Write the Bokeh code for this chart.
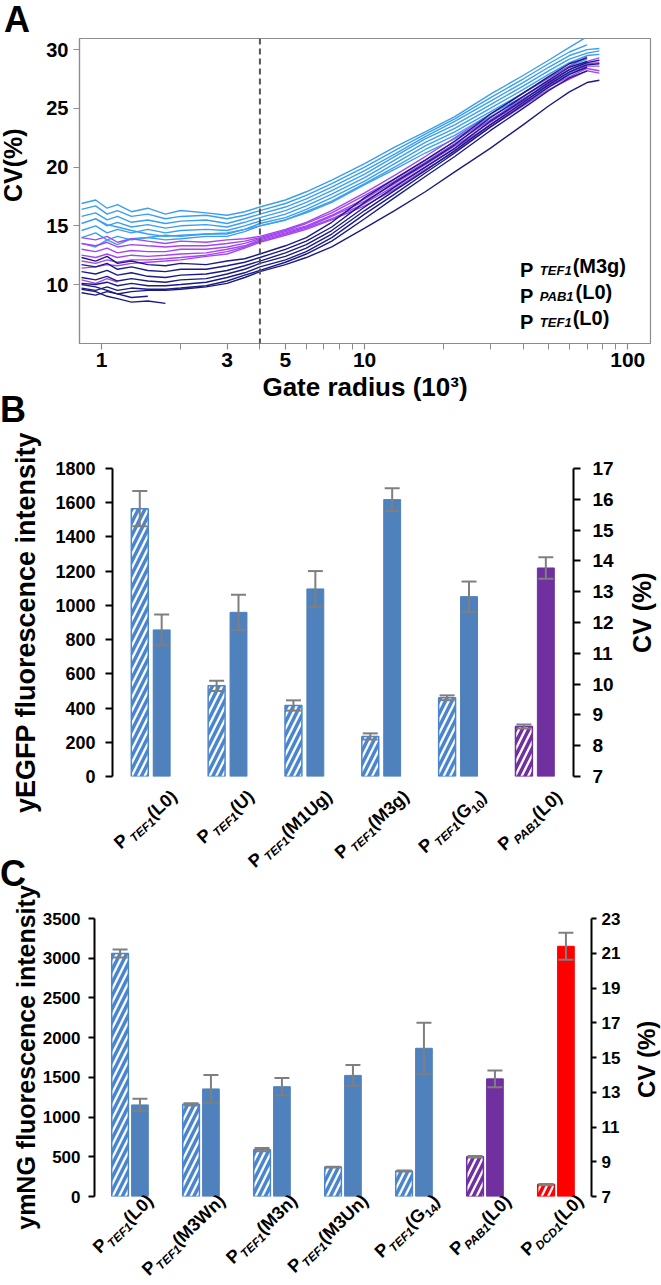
import math
from bokeh.plotting import figure
from bokeh.models import (Range1d, LinearAxis, FixedTicker, NumeralTickFormatter, Span, Div,
                          Label, Legend, LegendItem, ColumnDataSource, Whisker, TeeHead)
from bokeh.embed import file_html
from bokeh.resources import INLINE
from bokeh.core.properties import value

nan = float("nan")
FONT = "Liberation Sans"

# ---------------- Panel A data (gate radius in 10^3, CV in %) ----------------
GATE_RADIUS_K = [0.84, 0.95, 1.05, 1.15, 1.3, 1.5, 1.75, 2.0, 2.5, 3.0, 3.5, 4.0, 5.0,
                 6.0, 7.5, 10, 13, 17, 22, 30, 40, 50, 60, 70, 78]
CV_TEF1_M3G = [
    [16.9, 17.2, 16.5, 16.8, 16.2, 16.5, 16.0, 16.3, 16.1, 15.9, 16.2, 16.6, 17.2, 17.9, 18.9, 20.3, 21.7, 23.0, 24.3, 26.2, 27.8, 29.1, 30.2, 31.1, nan],
    [16.4, 16.7, 16.0, 16.3, 15.8, 16.0, 15.6, 15.8, 15.9, 15.6, 15.9, 16.3, 16.9, 17.6, 18.6, 20.0, 21.4, 22.8, 24.1, 25.9, 27.5, 28.8, 29.8, 30.4, nan],
    [15.8, 16.1, 15.5, 15.8, 15.3, 15.5, 15.2, 15.4, 15.5, 15.2, 15.6, 16.0, 16.6, 17.3, 18.3, 19.7, 21.1, 22.6, 23.9, 25.6, 27.2, 28.5, 29.5, 30.0, 30.1],
    [15.2, 15.6, 15.0, 15.3, 14.9, 15.1, 14.8, 15.0, 15.1, 14.9, 15.3, 15.7, 16.3, 17.0, 18.0, 19.4, 20.9, 22.4, 23.6, 25.3, 26.9, 28.2, 29.2, 29.7, 29.9],
    [14.6, 15.0, 14.4, 14.7, 14.4, 14.7, 14.4, 14.6, 14.7, 14.6, 15.0, 15.4, 16.0, 16.7, 17.7, 19.1, 20.6, 22.1, 23.3, 25.0, 26.6, 27.9, 28.9, 29.5, 29.6],
    [nan, 15.6, 15.1, 14.9, 14.6, 14.3, 14.1, 14.2, 14.3, 14.3, 14.7, 15.2, 15.7, 16.4, 17.4, 18.8, 20.3, 21.8, 23.0, 24.7, 26.3, 27.6, 28.6, 29.2, nan],
    [14.0, 14.4, 13.8, 14.1, 13.8, 14.0, 13.8, 13.9, 14.1, 14.1, 14.5, 15.0, 15.5, 16.2, 17.1, 18.6, 20.0, 21.5, 22.7, 24.5, 26.0, 27.3, 28.3, 28.9, nan],
    [13.5, 13.2, 13.8, 13.4, 13.9, 14.0, 14.2, 14.1, 14.3, 14.4, 14.7, 15.0, 15.5, 16.1, 17.0, 18.5, 19.8, 21.2, 22.4, 24.3, 25.8, 27.0, 28.0, 28.7, nan],
]
CV_PAB1_L0 = [
    [14.0, 13.8, 14.1, 13.6, 13.9, 13.7, 13.5, 13.7, 13.6, 13.8, 13.9, 14.1, 14.7, 15.3, 16.3, 17.8, 19.3, 20.9, 22.5, 24.5, 26.3, 27.6, 28.6, 29.4, nan],
    [13.5, 13.3, 13.6, 13.2, 13.4, 13.3, 13.2, 13.3, 13.3, 13.5, 13.7, 14.0, 14.6, 15.2, 16.1, 17.6, 19.0, 20.6, 22.2, 24.2, 26.0, 27.3, 28.3, 29.0, 29.3],
    [13.0, 12.8, 13.1, 12.7, 12.9, 12.8, 12.8, 13.0, 13.0, 13.2, 13.5, 13.9, 14.5, 15.0, 15.9, 17.3, 18.8, 20.4, 22.0, 24.0, 25.8, 27.1, 28.1, 28.8, 28.9],
    [12.5, 12.3, 12.6, 12.3, 12.5, 12.4, 12.5, 12.6, 12.7, 13.0, 13.3, 13.8, 14.4, 14.9, 15.8, 17.1, 18.6, 20.2, 21.8, 23.8, 25.6, 26.9, 27.9, 28.6, 28.6],
    [12.0, 11.8, 12.1, 11.9, 12.1, 12.1, 12.2, 12.3, 12.5, 12.8, 13.2, 13.7, 14.3, 14.8, 15.6, 16.9, 18.4, 20.0, 21.6, 23.6, 25.4, 26.8, 27.7, 28.4, 28.2],
    [11.4, 11.5, 11.7, 11.6, 11.8, 11.9, 12.0, 12.1, 12.4, 12.6, 13.1, 13.6, 14.2, 14.7, 15.5, 16.7, 18.1, 19.8, 21.3, 23.4, 25.2, 26.6, 27.5, 28.2, 28.0],
    [10.4, 10.1, 10.5, 10.2, nan, nan, nan, nan, nan, nan, nan, nan, nan, nan, nan, nan, nan, nan, nan, nan, nan, nan, nan, nan, nan],
]
CV_TEF1_L0 = [
    [12.3, 12.0, 12.4, 11.8, 12.0, 11.7, 11.6, 11.8, 11.7, 12.0, 12.2, 12.6, 13.3, 14.0, 15.3, 17.4, 19.0, 20.6, 22.2, 24.5, 26.3, 27.7, 28.8, 29.3, nan],
    [11.7, 11.5, 11.8, 11.3, 11.5, 11.2, 11.1, 11.3, 11.3, 11.6, 11.9, 12.3, 13.0, 13.7, 14.9, 17.0, 18.7, 20.3, 21.9, 24.2, 26.0, 27.4, 28.5, 29.0, nan],
    [11.1, 10.9, 11.2, 10.8, 11.0, 10.7, 10.6, 10.8, 10.9, 11.2, 11.6, 12.0, 12.7, 13.4, 14.6, 16.6, 18.3, 20.0, 21.6, 23.9, 25.7, 27.2, 28.3, 28.9, 29.1],
    [10.6, 10.4, 10.7, 10.3, 10.5, 10.3, 10.2, 10.4, 10.5, 10.9, 11.3, 11.8, 12.4, 13.1, 14.3, 16.3, 18.0, 19.7, 21.4, 23.6, 25.5, 27.0, 28.1, 28.7, 28.8],
    [10.1, 10.0, 10.2, 9.9, 10.1, 9.9, 9.9, 10.0, 10.2, 10.6, 11.0, 11.5, 12.1, 12.8, 14.0, 16.0, 17.7, 19.5, 21.2, 23.4, 25.3, 26.8, 27.9, 28.5, nan],
    [9.7, 9.5, 9.8, 9.5, 9.7, 9.6, 9.6, 9.7, 9.9, 10.3, 10.8, 11.2, 11.9, 12.6, 13.7, 15.6, 17.4, 19.2, 20.9, 23.1, 25.0, 26.5, 27.6, 28.2, nan],
    [9.3, 9.1, 9.4, 9.2, 9.4, 9.5, 9.5, 9.6, 9.8, 10.1, 10.6, 11.1, 11.7, 12.3, 13.2, 14.8, 16.3, 17.9, 19.6, 21.6, 23.6, 25.2, 26.4, 27.2, 27.4],
    [9.6, 9.4, 9.0, 8.8, 8.5, 8.6, 8.4, nan, nan, nan, nan, nan, nan, nan, nan, nan, nan, nan, nan, nan, nan, nan, nan, nan, nan],
    [10.0, 9.8, 9.5, 9.2, 8.9, 9.0, nan, nan, nan, nan, nan, nan, nan, nan, nan, nan, nan, nan, nan, nan, nan, nan, nan, nan, nan],
]
GATE_CUTOFF_K = 4
A_XTICKS = [1, 3, 5, 10, 100]
A_XMINOR = [2, 4, 6, 7, 8, 9, 20, 30, 40, 50, 60, 70, 80, 90]
A_YTICKS = [10, 15, 20, 25, 30]
A_SERIES = [("TEF1", "(M3g)"), ("PAB1", "(L0)"), ("TEF1", "(L0)")]
A_COLORS = ["#3a9ff0", "#a346f0", "#1b1b86"]

# ---------------- Panel B data ----------------
B_PROMOTER = ["TEF1", "TEF1", "TEF1", "TEF1", "TEF1", "PAB1"]
B_VARIANT = ["L0", "U", "M1Ug", "M3g", "G", "L0"]
B_VARIANT_SUB = ["", "", "", "", "10", ""]
B_INTENSITY = [1565, 530, 415, 234, 460, 292]
B_INTENSITY_ERR = [103, 30, 30, 18, 14, 12]
B_CV = [11.76, 12.33, 13.09, 15.99, 12.84, 13.77]
B_CV_ERR = [0.50, 0.57, 0.58, 0.37, 0.49, 0.35]
B_LEFT_TICKS = [0, 200, 400, 600, 800, 1000, 1200, 1400, 1600, 1800]
B_RIGHT_TICKS = [7, 8, 9, 10, 11, 12, 13, 14, 15, 16, 17]

# ---------------- Panel C data ----------------
C_PROMOTER = ["TEF1", "TEF1", "TEF1", "TEF1", "TEF1", "PAB1", "DCD1"]
C_VARIANT = ["L0", "M3Wn", "M3n", "M3Un", "G", "L0", "L0"]
C_VARIANT_SUB = ["", "", "", "", "14", "", ""]
C_INTENSITY = [3060, 1160, 590, 370, 320, 500, 150]
C_INTENSITY_ERR = [50, 15, 20, 6, 6, 10, 8]
C_CV = [12.27, 13.19, 13.32, 13.97, 15.53, 13.77, 21.40]
C_CV_ERR = [0.35, 0.80, 0.50, 0.60, 1.47, 0.48, 0.78]
C_LEFT_TICKS = [0, 500, 1000, 1500, 2000, 2500, 3000, 3500]
C_RIGHT_TICKS = [7, 9, 11, 13, 15, 17, 19, 21, 23]

BLUE, BLUE_LIGHT, PURPLE, RED, ERR = "#4f81bd", "#4a86cf", "#7030a0", "#ff0000", "#7f7f7f"
PROMOTER_COLOR = {"TEF1": (BLUE, BLUE_LIGHT), "PAB1": (PURPLE, PURPLE), "DCD1": (RED, RED)}

# Arial/Liberation Sans Bold advance widths (1/1000 em)
W_BOLD = {" ": 278, "(": 333, ")": 333, "%": 889, "A": 722, "B": 722, "C": 722, "D": 722,
          "E": 667, "F": 611, "G": 778, "L": 611, "M": 833, "N": 722, "P": 667, "T": 611,
          "U": 722, "V": 667, "W": 944, "g": 611, "n": 611}
ASCENT, DESCENT = 0.905, 0.212      # Liberation Sans vertical metrics (em)


def tw(s, px):
    return sum(W_BOLD.get(ch, 556) for ch in s) * px / 1000.0


def place(p, left, top):
    p.styles = {"position": "absolute", "left": f"{left}px", "top": f"{top}px"}


def text_div(t, left, top, size, extra=None):
    st = {"position": "absolute", "left": f"{left:.1f}px", "top": f"{top:.1f}px",
          "font-family": FONT, "font-size": f"{size}px", "font-weight": "bold",
          "line-height": "1", "color": "black", "margin": "0", "padding": "0",
          "white-space": "nowrap"}
    if extra:
        st.update(extra)
    return Div(text=t, styles=st)


def vertical_title(t, left, center_y, size):
    # rotated 90 deg counter-clockwise about its top-left corner, reads bottom-to-top
    return text_div(t, left, center_y + tw(t, size) / 2, size,
                    {"transform": "rotate(-90deg)", "transform-origin": "0 0"})


def category_divs(promoters, variants, subs, centers_x, zero_y, angle_deg, anchor, big, small,
                  gap, drop):
    """Rotated tick labels P<sub><i>promoter</i></sub>(variant) whose baseline ends at
    (group centre + anchor[0], zero line + anchor[1]) in page pixels."""
    base = (ASCENT - (ASCENT + DESCENT - 1) / 2) * big      # baseline below box top
    sub_style = (f"font-size:{small}px;position:relative;top:{drop}px;line-height:1")
    out = []
    for prom, var, sub, cx in zip(promoters, variants, subs, centers_x):
        html = (f'P<span style="{sub_style};font-style:italic;margin-left:{gap}px">{prom}</span>'
                f'({var}')
        if sub:
            html += f'<span style="{sub_style}">{sub}</span>'
        html += ")"
        w = tw("P", big) + gap + tw(prom, small) + tw("(" + var, big) + tw(sub, small) + tw(")", big)
        xe, ye = cx + anchor[0], zero_y + anchor[1]
        out.append(text_div(html, xe - w, ye - base, big,
                            {"line-height": f"{big}px", "transform": f"rotate(-{angle_deg}deg)",
                             "transform-origin": f"{w:.1f}px {base:.1f}px"}))
    return out


def style_axis(ax, size, color="black", width=2, tick_out=7, standoff=10, title_size="24px"):
    ax.axis_line_color = color
    ax.axis_line_width = width
    ax.major_tick_line_color = color
    ax.major_tick_line_width = width
    ax.major_tick_out = tick_out
    ax.major_tick_in = 0
    ax.minor_tick_line_color = None
    ax.major_label_text_font = FONT
    ax.major_label_text_font_style = "bold"
    ax.major_label_text_font_size = size
    ax.major_label_text_color = "black"
    ax.major_label_standoff = standoff
    ax.axis_label_text_font = FONT
    ax.axis_label_text_font_style = "bold"
    ax.axis_label_text_font_size = title_size
    ax.axis_label_text_color = "black"


def screen_label(p, x, y, text, size, style="bold", baseline="alphabetic", align="left"):
    p.add_layout(Label(x=x, y=y, x_units="screen", y_units="screen", text=text,
                       text_font=FONT, text_font_size=size, text_font_style=style,
                       text_baseline=baseline, text_align=align, text_color="black"))


def bar_panel(p, intensity, intensity_err, cv, cv_err, promoters, cv_min, bar_w, off_h, off_s,
              hatch_scale):
    n = len(intensity)
    xh = [i - off_h for i in range(n)]
    xs = [i + off_s for i in range(n)]
    solid = [PROMOTER_COLOR[pr][0] for pr in promoters]
    light = [PROMOTER_COLOR[pr][1] for pr in promoters]
    src_h = ColumnDataSource(dict(x=xh, top=intensity, line=light, hatch=light,
                                  upper=[v + e for v, e in zip(intensity, intensity_err)],
                                  lower=[v - e for v, e in zip(intensity, intensity_err)]))
    src_s = ColumnDataSource(dict(x=xs, top=cv, color=solid,
                                  upper=[v + e for v, e in zip(cv, cv_err)],
                                  lower=[v - e for v, e in zip(cv, cv_err)]))
    p.vbar(x="x", top="top", bottom=0, width=bar_w, source=src_h, fill_color="white",
           line_color="line", line_width=1.5, hatch_pattern="/", hatch_color="hatch",
           hatch_scale=hatch_scale, hatch_weight=3.5)
    p.vbar(x="x", top="top", bottom=cv_min, width=bar_w, source=src_s, fill_color="color",
           line_color="color", y_range_name="cv")
    for src, rng in ((src_h, "default"), (src_s, "cv")):
        p.add_layout(Whisker(source=src, base="x", upper="upper", lower="lower",
                             y_range_name=rng, line_color=ERR, line_width=2, level="overlay",
                             upper_head=TeeHead(size=15, line_color=ERR, line_width=2),
                             lower_head=TeeHead(size=15, line_color=ERR, line_width=2)))


# ================= Panel A =================
pA = figure(width=645, height=402, x_axis_type="log", x_range=Range1d(0.825, 122),
            y_range=Range1d(4.98, 30.95), output_backend="svg", toolbar_location=None,
            min_border_left=71, min_border_right=3, min_border_top=30, min_border_bottom=67)
place(pA, 8, 8)
pA.grid.visible = False
pA.outline_line_color = "#8c8c8c"
pA.outline_line_width = 1.2
for groups, color in zip((CV_TEF1_M3G, CV_PAB1_L0, CV_TEF1_L0), A_COLORS):
    xs, ys = [], []
    for row in groups:
        pts = [(x, y) for x, y in zip(GATE_RADIUS_K, row) if y == y]
        xs.append([q[0] for q in pts])
        ys.append([q[1] for q in pts])
    pA.multi_line(xs=xs, ys=ys, line_color=color, line_width=1.4)
pA.add_layout(Span(location=GATE_CUTOFF_K, dimension="height", line_color="#555555",
                   line_dash="6 4", line_width=2))
style_axis(pA.xaxis[0], "21px", color="#8c8c8c", width=1.2, tick_out=6, standoff=3,
           title_size="26px")
style_axis(pA.yaxis[0], "20px", color="#8c8c8c", width=1.2, tick_out=6, standoff=5,
           title_size="25px")
pA.xaxis.ticker = FixedTicker(ticks=A_XTICKS, minor_ticks=A_XMINOR)
pA.xaxis.formatter = NumeralTickFormatter(format="0")
pA.xaxis.minor_tick_line_color = "#8c8c8c"
pA.xaxis.minor_tick_out = 6
pA.xaxis.minor_tick_in = 0
pA.yaxis.ticker = FixedTicker(ticks=A_YTICKS)
pA.xaxis.axis_label = "Gate radius (10³)"
pA.xaxis.axis_label_standoff = 2

dummies = [pA.line(x=[], y=[], line_color=c, line_width=3.5) for c in A_COLORS]
legend = Legend(items=[LegendItem(label=value("P"), renderers=[r]) for r in dummies],
                location=(391, 8), orientation="vertical", glyph_width=40, glyph_height=26,
                label_height=26, label_standoff=10, spacing=0, padding=5, margin=0,
                border_line_color=None, background_fill_alpha=0, label_text_font=FONT,
                label_text_font_style="bold", label_text_font_size="20px",
                label_text_color="black")
pA.add_layout(legend)
for k, (prom, var) in enumerate(A_SERIES):
    yc = 8 + 5 + 26 * (2 - k) + 13
    x0 = 391 + 5 + 40 + 10 + tw("P", 20) + 1
    screen_label(pA, x0, yc - 5, prom, "13px", "bold italic", baseline="middle")
    screen_label(pA, x0 + tw(prom, 13) + 1, yc, var, "20px", "bold", baseline="middle")

# ================= Panel B =================
B_PAGE_TOP = 410
B_LEFT, B_RIGHT, B_TOP, B_ZERO, B_H = 102, 80, 58, 366, 460   # canvas geometry in px
pB = figure(width=645, height=B_H, x_range=Range1d(-0.5, 5.5),
            y_range=Range1d(B_LEFT_TICKS[0], B_LEFT_TICKS[-1]),
            x_axis_location=None, output_backend="svg", toolbar_location=None,
            min_border_left=B_LEFT, min_border_right=B_RIGHT, min_border_top=B_TOP,
            min_border_bottom=B_H - B_ZERO)
place(pB, 8, B_PAGE_TOP)
pB.extra_y_ranges = {"cv": Range1d(B_RIGHT_TICKS[0], B_RIGHT_TICKS[-1])}
pB.grid.visible = False
pB.outline_line_color = None
bar_panel(pB, B_INTENSITY, B_INTENSITY_ERR, B_CV, B_CV_ERR, B_PROMOTER, B_RIGHT_TICKS[0],
          0.22, 0.145, 0.14, 13)
style_axis(pB.yaxis[0], "18px", standoff=10, title_size="27px")
pB.yaxis[0].ticker = FixedTicker(ticks=B_LEFT_TICKS)
pB.yaxis[0].axis_label = "yEGFP fluorescence intensity"
pB.yaxis[0].axis_label_standoff = 11
rB = LinearAxis(y_range_name="cv", ticker=FixedTicker(ticks=B_RIGHT_TICKS))
style_axis(rB, "19px", standoff=12)
pB.add_layout(rB, "right")
b_step = (645 - B_LEFT - B_RIGHT) / len(B_INTENSITY)
b_centers = [8 + B_LEFT + (i + 0.5) * b_step for i in range(len(B_INTENSITY))]
b_labels = category_divs(B_PROMOTER, B_VARIANT, B_VARIANT_SUB, b_centers,
                         B_PAGE_TOP + B_ZERO, 42, (30, 22), 18, 12, 3, 4)

# ================= Panel C =================
C_PAGE_TOP = 870
C_LEFT, C_RIGHT, C_TOP, C_ZERO, C_H = 82, 62, 48, 326, 407
pC = figure(width=645, height=C_H, x_range=Range1d(-0.5, 6.5),
            y_range=Range1d(C_LEFT_TICKS[0], C_LEFT_TICKS[-1]),
            x_axis_location=None, output_backend="svg", toolbar_location=None,
            min_border_left=C_LEFT, min_border_right=C_RIGHT, min_border_top=C_TOP,
            min_border_bottom=C_H - C_ZERO)
place(pC, 8, C_PAGE_TOP)
pC.extra_y_ranges = {"cv": Range1d(C_RIGHT_TICKS[0], C_RIGHT_TICKS[-1])}
pC.grid.visible = False
pC.outline_line_color = None
bar_panel(pC, C_INTENSITY, C_INTENSITY_ERR, C_CV, C_CV_ERR, C_PROMOTER, C_RIGHT_TICKS[0],
          0.235, 0.14, 0.14, 13)
style_axis(pC.yaxis[0], "17px", tick_out=6, standoff=8, title_size="25px")
pC.yaxis[0].ticker = FixedTicker(ticks=C_LEFT_TICKS)
pC.yaxis[0].axis_label = "ymNG fluorescence intensity"
pC.yaxis[0].axis_label_standoff = 0
rC = LinearAxis(y_range_name="cv", ticker=FixedTicker(ticks=C_RIGHT_TICKS))
style_axis(rC, "17px", tick_out=5, standoff=5)
pC.add_layout(rC, "right")
c_step = (645 - C_LEFT - C_RIGHT) / len(C_INTENSITY)
c_centers = [8 + C_LEFT + (i + 0.5) * c_step for i in range(len(C_INTENSITY))]
c_labels = category_divs(C_PROMOTER, C_VARIANT, C_VARIANT_SUB, c_centers,
                         C_PAGE_TOP + C_ZERO, 44, (29, 6), 18, 12, 1, 4)

overlay = [text_div("A", 4, 2, 36), text_div("B", 0, 392, 36), text_div("C", 0, 856, 36),
           vertical_title("CV(%)", 1, 165, 25),
           vertical_title("CV (%)", 630, 613, 25), vertical_title("CV (%)", 635, 1059, 24)]
open("out.html", "w").write(file_html([pA, pB, pC] + overlay + b_labels + c_labels, INLINE))
